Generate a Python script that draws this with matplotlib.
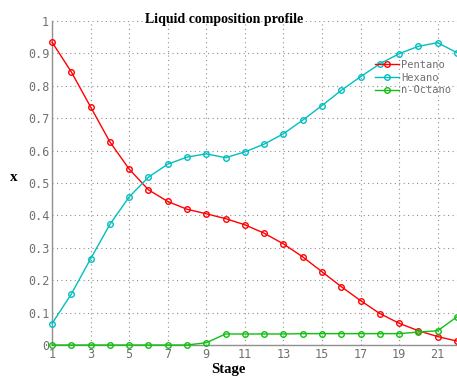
import matplotlib
matplotlib.use("Agg")
import matplotlib.pyplot as plt

stages = list(range(1, 23))
pentano = [0.935, 0.843, 0.735, 0.627, 0.543, 0.479, 0.443, 0.419, 0.405, 0.390,
           0.371, 0.345, 0.312, 0.272, 0.226, 0.180, 0.137, 0.097, 0.067, 0.044,
           0.026, 0.012]
hexano = [0.066, 0.157, 0.266, 0.372, 0.457, 0.518, 0.558, 0.580, 0.590, 0.578,
          0.596, 0.620, 0.652, 0.694, 0.739, 0.786, 0.828, 0.868, 0.899, 0.922,
          0.933, 0.902]
octano = [0.0, 0.0, 0.0, 0.0, 0.0, 0.0, 0.0, 0.0, 0.007, 0.034,
          0.034, 0.034, 0.034, 0.035, 0.035, 0.035, 0.035, 0.035, 0.035, 0.040,
          0.044, 0.087]
series_names = ["Pentano", "Hexano", "n-Octano"]
xticks = list(range(1, 22, 2))
yticks = [0, 0.1, 0.2, 0.3, 0.4, 0.5, 0.6, 0.7, 0.8, 0.9, 1]
ytick_labels = ["0", "0.1", "0.2", "0.3", "0.4", "0.5", "0.6", "0.7", "0.8", "0.9", "1"]

fig = plt.figure(figsize=(4.57, 3.76), dpi=100)
ax = fig.add_axes([52/457, 1-345/376, 1-52/457, (345-21)/376])

ms = 4.0
ax.plot(stages, pentano, color="#ff0000", lw=1.0, marker="o", ms=ms, mfc="none",
        mec="#ff0000", mew=1.0, label=series_names[0], clip_on=False, zorder=3)
ax.plot(stages, hexano, color="#00bfbf", lw=1.0, marker="o", ms=ms, mfc="none",
        mec="#00bfbf", mew=1.0, label=series_names[1], clip_on=False, zorder=3)
ax.plot(stages, octano, color="#10c010", lw=1.0, marker="o", ms=ms, mfc="none",
        mec="#10c010", mew=1.0, label=series_names[2], clip_on=False, zorder=3)

ax.set_xlim(1, 22)
ax.set_ylim(0, 1)
ax.set_xticks(xticks)
ax.set_yticks(yticks)
ax.set_yticklabels(ytick_labels)
ax.tick_params(axis="both", length=0, labelsize=8.5, labelcolor="#707070", pad=2)
for lab in ax.get_xticklabels() + ax.get_yticklabels():
    lab.set_family("DejaVu Sans Mono")
ax.grid(True, color="#909090", linestyle=(0, (1, 3)), lw=0.8)
ax.set_axisbelow(True)
for s in ["top", "right"]:
    ax.spines[s].set_visible(False)
for s in ["left", "bottom"]:
    ax.spines[s].set_color("#909090")
    ax.spines[s].set_linewidth(1.0)

fig.text(224/457, 1-20/376, "Liquid composition profile", ha="center", va="center",
         family="Liberation Serif", fontweight="bold", fontsize=10)
fig.text(14/457, 1-178/376, "x", ha="center", va="center",
         family="Liberation Serif", fontweight="bold", fontsize=11)
fig.text(228/457, 1-369/376, "Stage", ha="center", va="center",
         family="Liberation Serif", fontweight="bold", fontsize=10.5)

leg = ax.legend(loc="upper left", bbox_to_anchor=(375/457, 1-60/376),
                bbox_transform=fig.transFigure, frameon=False,
                handlelength=2.3, handletextpad=0.2, labelspacing=0.25,
                borderpad=0, borderaxespad=0,
                prop={"family": "DejaVu Sans Mono", "size": 7.5})
for t in leg.get_texts():
    t.set_color("#707070")

fig.savefig("out.png", dpi=100)
